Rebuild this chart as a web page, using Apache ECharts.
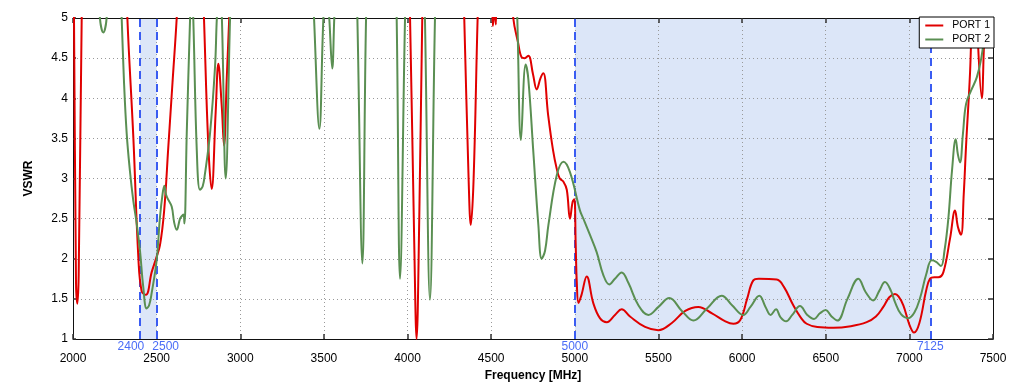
<!DOCTYPE html>
<html>
<head>
<meta charset="utf-8">
<script src="https://cdn.jsdelivr.net/npm/echarts@6/dist/echarts.min.js"></script>
<style>html,body{margin:0;padding:0;background:#fff}#c{width:1020px;height:388px}</style>
</head>
<body>
<div id="c"></div>
<script>
// ---- data ----
const xTicks = [2000, 2500, 3000, 3500, 4000, 4500, 5000, 5500, 6000, 6500, 7000, 7500];
const bands = [[2400, 2500], [5000, 7125]];
const bandEdges = [2400, 2500, 5000, 7125];

const port1Freq = [2000,2006,2018,2026,2034,2052,2060,2320,2325,2361,2391,2411,2436,2470,2496,2520,2545,2570,2595,2620,2630,2775,2783,2809,2829,2853,2869,2889,2903,2919,2934,2945,4005,4015,4040,4054,4070,4088,4095,4330,4339,4365,4378,4395,4419,4430,4500,4510,4520,4528,4535,4620,4632,4660,4682,4700,4722,4750,4772,4795,4812,4840,4870,4892,4910,4932,4952,4971,4987,4997,5005,5012,5022,5040,5071,5110,5150,5191,5240,5280,5330,5420,5499,5580,5660,5738,5820,5900,5948,5990,6030,6067,6100,6207,6250,6306,6350,6386,6450,6545,6650,6745,6800,6844,6880,6914,6935,6964,7000,7028,7060,7100,7123,7150,7173,7203,7243,7273,7290,7309,7325,7339,7363,7373,7385,7400,7410,7433,7445,7452,7470,7500];
const port1Vswr = [5.8,5.0,1.7,1.44,1.8,5.0,5.6,5.6,5.0,3.5,2.0,1.59,1.55,1.83,2.0,2.17,2.6,3.4,4.2,5.0,5.5,5.5,5.0,3.41,2.87,3.83,4.43,3.91,3.41,4.24,5.0,5.6,5.6,5.0,2.2,1.0,2.5,5.0,5.6,5.6,5.0,3.0,2.42,3.0,5.0,5.6,5.6,4.9,5.1,4.92,5.5,5.5,5.0,4.7,4.51,4.5,4.53,4.3,4.11,4.25,4.31,3.8,3.35,3.12,3.0,2.96,2.86,2.5,2.71,2.74,2.2,1.7,1.45,1.55,1.78,1.45,1.26,1.21,1.3,1.37,1.28,1.15,1.11,1.2,1.35,1.40,1.32,1.22,1.19,1.24,1.5,1.73,1.75,1.74,1.65,1.42,1.27,1.19,1.15,1.14,1.16,1.21,1.28,1.40,1.52,1.56,1.53,1.42,1.18,1.08,1.2,1.6,1.75,1.77,1.77,1.83,2.25,2.6,2.4,2.3,2.8,3.41,4.33,5.0,5.6,5.5,4.7,4.0,4.6,5.0,5.6,5.8];

const port2Freq = [2000,2150,2161,2181,2201,2210,2280,2291,2305,2321,2340,2360,2380,2400,2420,2440,2455,2470,2500,2520,2535,2546,2556,2566,2590,2605,2620,2640,2650,2660,2666,2680,2700,2709,2719,2740,2759,2775,2789,2819,2849,2860,2875,2890,2913,2939,2950,3430,3441,3473,3497,3515,3532,3550,3562,3575,3690,3700,3730,3752,3765,3925,3935,3955,3985,3995,4095,4104,4134,4164,4175,4645,4656,4678,4706,4722,4752,4782,4802,4822,4842,4892,4932,4971,5031,5051,5090,5131,5170,5206,5240,5280,5320,5380,5440,5500,5565,5640,5709,5790,5878,5940,6007,6050,6103,6140,6171,6203,6230,6263,6300,6346,6390,6430,6465,6500,6535,6569,6630,6695,6740,6784,6820,6854,6890,6914,6950,6994,7030,7064,7100,7134,7160,7189,7210,7233,7255,7277,7290,7303,7320,7339,7370,7403,7430,7455,7470,7500];
const port2Vswr = [5.8,5.6,5.0,4.82,5.0,5.6,5.6,5.0,4.2,3.56,3.1,2.73,2.45,2.11,1.65,1.38,1.42,1.57,1.98,2.52,2.8,2.91,2.8,2.75,2.65,2.45,2.36,2.5,2.53,2.55,2.44,3.56,5.0,5.5,5.0,3.35,2.86,2.9,3.06,3.56,4.39,5.0,5.5,5.0,3.0,5.0,5.6,5.6,5.0,3.62,5.0,5.5,5.0,4.37,5.0,5.6,5.6,5.0,1.94,5.0,5.6,5.6,5.0,1.75,5.0,5.6,5.6,5.0,1.49,5.0,5.6,5.6,5.0,3.48,4.42,4.24,3.33,2.42,2.0,2.1,2.42,3.04,3.21,3.08,2.6,2.5,2.3,2.08,1.8,1.68,1.75,1.83,1.7,1.42,1.30,1.4,1.51,1.35,1.23,1.38,1.54,1.42,1.30,1.4,1.54,1.4,1.30,1.37,1.27,1.22,1.3,1.41,1.3,1.25,1.32,1.36,1.28,1.23,1.5,1.75,1.58,1.48,1.6,1.71,1.6,1.46,1.31,1.26,1.33,1.51,1.8,1.98,1.96,1.91,2.1,2.5,3.1,3.49,3.3,3.2,3.55,3.93,4.1,4.26,4.5,4.9,5.3,5.6];

const zip = (a, b) => a.map((v, i) => [v, b[i]]);

const FONT = '"Liberation Sans", Arial, Helvetica, sans-serif';
const BLUE = '#3a5cf2';

const chart = echarts.init(document.getElementById('c'));
const baseX = {
  type: 'value', min: 2000, max: 7500, interval: 500, z: 2
};
const baseY = {
  type: 'value', min: 1, max: 5, interval: 0.5, z: 2
};
chart.setOption({
  animation: false,
  textStyle: { fontFamily: FONT },
  grid: { left: 73, right: 27, top: 18, bottom: 49 },
  legend: {
    right: 26, top: 17, orient: 'vertical', align: 'left',
    backgroundColor: '#fff', borderColor: '#000', borderWidth: 1, borderRadius: 0,
    padding: [3, 4, 3, 6], itemGap: 3, itemWidth: 18, itemHeight: 2,
    textStyle: { fontFamily: FONT, fontSize: 10.5, color: '#000', padding: [0, 0, 0, 4] },
    data: [{ name: 'PORT 1', icon: 'rect' }, { name: 'PORT 2', icon: 'rect' }]
  },
  xAxis: [
    Object.assign({}, baseX, {
      position: 'bottom',
      name: 'Frequency [MHz]', nameLocation: 'middle', nameGap: 31,
      nameTextStyle: { fontFamily: FONT, fontSize: 12, fontWeight: 'bold', color: '#000' },
      axisLine: { lineStyle: { color: '#111', width: 1 } },
      axisTick: { inside: true, length: 5, lineStyle: { color: '#333', width: 1.5 } },
      axisLabel: { fontFamily: FONT, fontSize: 12, color: '#000', margin: 14, formatter: v => String(v) },
      splitLine: { show: true, lineStyle: { color: '#999', type: [1, 3], width: 1 } }
    }),
    Object.assign({}, baseX, {
      position: 'top',
      axisLine: { lineStyle: { color: '#111', width: 1 } },
      axisTick: { inside: true, length: 5, lineStyle: { color: '#333', width: 1.5 } },
      axisLabel: { show: false }, splitLine: { show: false }
    })
  ],
  yAxis: [
    Object.assign({}, baseY, {
      position: 'left',
      name: 'VSWR', nameLocation: 'middle', nameGap: 38,
      nameTextStyle: { fontFamily: FONT, fontSize: 12, fontWeight: 'bold', color: '#000' },
      axisLine: { show: true, lineStyle: { color: '#111', width: 1 } },
      axisTick: { show: true, inside: true, length: 3, lineStyle: { color: '#333', width: 1.5 } },
      axisLabel: { fontFamily: FONT, fontSize: 12, color: '#000', margin: 5 },
      splitLine: { show: true, lineStyle: { color: '#999', type: [1, 3], width: 1 } }
    }),
    Object.assign({}, baseY, {
      position: 'right',
      axisLine: { show: true, lineStyle: { color: '#111', width: 1 } },
      axisTick: { show: true, inside: true, length: 5, lineStyle: { color: '#333', width: 1.5 } },
      axisLabel: { show: false }, splitLine: { show: false }
    })
  ],
  series: [
    {
      name: 'bands', type: 'line', z: 1, data: [], silent: true,
      markArea: {
        silent: true, z: 1,
        itemStyle: { color: '#dce6f8' },
        data: bands.map(b => [{ xAxis: b[0] }, { xAxis: b[1] }])
      },
      markLine: {
        silent: true, symbol: 'none', z: 2.5,
        lineStyle: { color: BLUE, type: [8, 5], width: 2 },
        label: { position: 'start', distance: 2, color: '#4a6cf7', fontFamily: FONT, fontSize: 12, formatter: p => String(p.value) },
        data: bandEdges.map((v, i) => ({
          xAxis: v,
          label: { offset: i === 0 ? [-9, 0] : (i === 1 ? [9, 0] : [0, 0]) }
        }))
      }
    },
    {
      name: 'PORT 1', type: 'line', z: 3, showSymbol: false,
      smooth: 0.4, clip: true,
      lineStyle: { color: '#e00000', width: 2 }, itemStyle: { color: '#e00000' },
      data: zip(port1Freq, port1Vswr)
    },
    {
      name: 'PORT 2', type: 'line', z: 3, showSymbol: false,
      smooth: 0.4, clip: true,
      lineStyle: { color: '#5a8f52', width: 2 }, itemStyle: { color: '#5a8f52' },
      data: zip(port2Freq, port2Vswr)
    }
  ]
});
</script>
</body>
</html>
